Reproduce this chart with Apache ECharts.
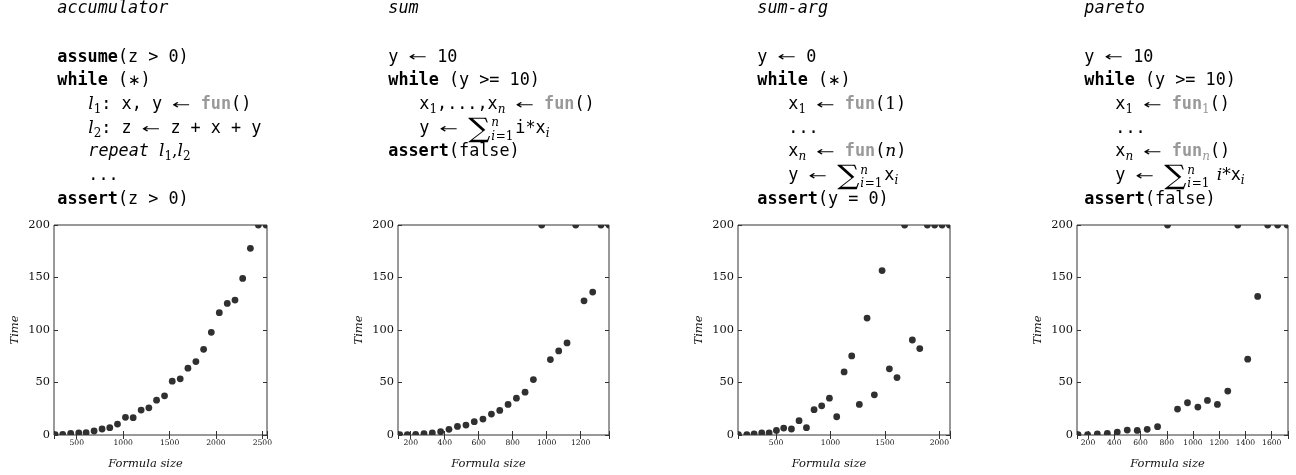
<!DOCTYPE html>
<html>
<head>
<meta charset="utf-8">
<script src="https://cdn.jsdelivr.net/npm/echarts@6/dist/echarts.min.js"></script>
<style>
  html, body { margin: 0; padding: 0; background: #fff; }
  #chart { width: 1296px; height: 475px; }
</style>
</head>
<body>
<div id="chart"></div>
<script>
// Data
const accSize = [268, 349, 435, 522, 601, 687, 773, 856, 939, 1025, 1108, 1194, 1277, 1360, 1446, 1529, 1615, 1698, 1784, 1867, 1950, 2036, 2122, 2205, 2288, 2371, 2457, 2540];
const accTime = [0.3, 0.6, 1.6, 1.9, 2.2, 3.8, 5.7, 7.0, 10.4, 16.8, 16.5, 23.7, 25.9, 33.2, 37.3, 51.3, 53.5, 63.6, 69.9, 81.6, 97.8, 116.5, 125.3, 128.5, 149.1, 177.8, 200, 200];

const sumSize = [135, 180, 229, 278, 327, 376, 425, 475, 525, 574, 625, 675, 724, 773, 822, 873, 922, 971, 1022, 1071, 1120, 1171, 1220, 1271, 1320, 1367];
const sumTime = [0.3, 0.3, 0.6, 1.3, 1.9, 3.2, 5.4, 8.2, 9.5, 12.7, 15.2, 19.9, 23.4, 29.1, 35.1, 40.8, 52.8, 200, 71.8, 80.1, 87.7, 200, 127.8, 136.1, 200, 200];

const sumArgSize = [154, 231, 298, 368, 436, 503, 570, 641, 711, 779, 849, 919, 990, 1057, 1125, 1195, 1265, 1336, 1403, 1474, 1541, 1611, 1681, 1752, 1820, 1890, 1957, 2025, 2093];
const sumArgTime = [0.3, 0.3, 1.0, 1.9, 1.9, 4.4, 6.6, 5.7, 13.6, 7.0, 24.1, 27.8, 35.1, 17.4, 60.1, 75.3, 29.1, 111.4, 38.3, 156.6, 63.0, 54.7, 200, 90.5, 82.3, 200, 200, 200, 200];

const paretoSize = [124, 197, 271, 347, 423, 499, 575, 651, 730, 806, 882, 958, 1037, 1110, 1186, 1265, 1341, 1417, 1493, 1569, 1645, 1718];
const paretoTime = [0.3, 0.3, 1.0, 1.6, 2.8, 4.7, 4.4, 5.4, 7.9, 200, 24.7, 30.7, 26.6, 32.9, 29.1, 41.8, 200, 72.2, 132.0, 200, 200, 200];

const titles = ['accumulator', 'sum', 'sum-arg', 'pareto'];
const xTickSteps = [500, 200, 500, 200];
const yTicks = [0, 50, 100, 150, 200];

// Panel layout
const panels = [
  {left: 54, width: 213, xMin: 255, xMax: 2550, sizes: accSize, times: accTime, codeX: 57.3, indentX: 88.3},
  {left: 398, width: 211, xMin: 125, xMax: 1367, sizes: sumSize, times: sumTime, codeX: 388.3, indentX: 419.3},
  {left: 738, width: 212, xMin: 150, xMax: 2098, sizes: sumArgSize, times: sumArgTime, codeX: 757.3, indentX: 788.3},
  {left: 1077, width: 211, xMin: 116, xMax: 1724, sizes: paretoSize, times: paretoTime, codeX: 1084.3, indentX: 1115.3}
];

// ---- code listing typesetting ----
const MONO = 'DejaVu Sans Mono';
const SERIF = 'DejaVu Serif';
const FS = 16.8;
function st(family, size, weight, style, color, dy, sx) {
  return {family, size, weight, style, color, dy: dy || 0, sx: sx || 1};
}
const ST = {
  m:    st(MONO, FS, 'normal', 'normal', '#000'),
  b:    st(MONO, FS, 'bold', 'normal', '#000'),
  g:    st(MONO, FS, 'bold', 'normal', '#999'),
  it:   st(MONO, FS, 'normal', 'italic', '#000'),
  v:    st(SERIF, 17, 'normal', 'italic', '#000'),
  r:    st(SERIF, 17, 'normal', 'normal', '#000'),
  sb:   st(SERIF, 12, 'normal', 'normal', '#000', 3.5),
  sbi:  st(SERIF, 12, 'normal', 'italic', '#000', 3.5),
  gsb:  st(SERIF, 12, 'normal', 'normal', '#999', 3.5),
  gsbi: st(SERIF, 12, 'normal', 'italic', '#999', 3.5),
  arr:  st('DejaVu Sans', 13, 'normal', 'normal', '#000', -0.5, 1.7),
  ast:  st('DejaVu Sans', 15, 'normal', 'normal', '#000'),
  sig:  st(SERIF, 27, 'normal', 'normal', '#000', 5, 1.15),
  sup:  st(SERIF, 12, 'normal', 'italic', '#000', -7),
  lowi: st(SERIF, 12, 'normal', 'italic', '#000', 6.5),
  low:  st(SERIF, 12, 'normal', 'normal', '#000', 6.5)
};

const ctx = document.createElement('canvas').getContext('2d');
function measure(text, s) {
  ctx.font = `${s.style} ${s.weight} ${s.size}px "${s.family}"`;
  return ctx.measureText(text).width * s.sx;
}
function textEl(text, x, baseline, s) {
  return {
    type: 'text', x: x, y: baseline + s.dy - 0.34 * s.size, scaleX: s.sx, silent: true,
    style: {text: text, fill: s.color, fontSize: s.size, fontFamily: s.family,
      fontWeight: s.weight, fontStyle: s.style, align: 'left', verticalAlign: 'middle'}
  };
}
function layoutLine(x, baseline, segs) {
  const out = [];
  segs.forEach(seg => {
    if (seg[0] === 'sum') {
      out.push(textEl('∑', x, baseline, ST.sig));
      x += measure('∑', ST.sig) + 1;
      out.push(textEl(seg[1], x, baseline, ST.sup));
      const w1 = measure('i', ST.lowi);
      out.push(textEl('i', x, baseline, ST.lowi));
      out.push(textEl('=1', x + w1 + 0.5, baseline, ST.low));
      x += Math.max(measure(seg[1], ST.sup), w1 + 0.5 + measure('=1', ST.low)) + 2;
    } else {
      const s = ST[seg[0]];
      out.push(textEl(seg[1], x, baseline, s));
      x += measure(seg[1], s);
    }
  });
  return out;
}

const ARR = ['arr', '←'];
const AST = ['ast', '∗'];
const codes = [
  [
    [0, [['b', 'assume'], ['m', '(z > 0)']]],
    [0, [['b', 'while'], ['m', ' ('], AST, ['m', ')']]],
    [1, [['v', 'l'], ['sb', '1'], ['m', ': x, y '], ARR, ['m', ' '], ['g', 'fun'], ['m', '()']]],
    [1, [['v', 'l'], ['sb', '2'], ['m', ': z '], ARR, ['m', ' z + x + y']]],
    [1, [['it', 'repeat '], ['v', 'l'], ['sb', '1'], ['r', ','], ['v', 'l'], ['sb', '2']]],
    [1, [['m', '...']]],
    [0, [['b', 'assert'], ['m', '(z > 0)']]]
  ],
  [
    [0, [['m', 'y '], ARR, ['m', ' 10']]],
    [0, [['b', 'while'], ['m', ' (y >= 10)']]],
    [1, [['m', 'x'], ['sb', '1'], ['m', ',...,x'], ['sbi', 'n'], ['m', ' '], ARR, ['m', ' '], ['g', 'fun'], ['m', '()']]],
    [1, [['m', 'y '], ARR, ['m', ' '], ['sum', 'n'], ['m', 'i*x'], ['sbi', 'i']]],
    [0, [['b', 'assert'], ['m', '(false)']]]
  ],
  [
    [0, [['m', 'y '], ARR, ['m', ' 0']]],
    [0, [['b', 'while'], ['m', ' ('], AST, ['m', ')']]],
    [1, [['m', 'x'], ['sb', '1'], ['m', ' '], ARR, ['m', ' '], ['g', 'fun'], ['m', '('], ['r', '1'], ['m', ')']]],
    [1, [['m', '...']]],
    [1, [['m', 'x'], ['sbi', 'n'], ['m', ' '], ARR, ['m', ' '], ['g', 'fun'], ['m', '('], ['v', 'n'], ['m', ')']]],
    [1, [['m', 'y '], ARR, ['m', ' '], ['sum', 'n'], ['m', 'x'], ['sbi', 'i']]],
    [0, [['b', 'assert'], ['m', '(y = 0)']]]
  ],
  [
    [0, [['m', 'y '], ARR, ['m', ' 10']]],
    [0, [['b', 'while'], ['m', ' (y >= 10)']]],
    [1, [['m', 'x'], ['sb', '1'], ['m', ' '], ARR, ['m', ' '], ['g', 'fun'], ['gsb', '1'], ['m', '()']]],
    [1, [['m', '...']]],
    [1, [['m', 'x'], ['sbi', 'n'], ['m', ' '], ARR, ['m', ' '], ['g', 'fun'], ['gsbi', 'n'], ['m', '()']]],
    [1, [['m', 'y '], ARR, ['m', ' '], ['sum', 'n'], ['r', ' '], ['v', 'i'], ['r', '*'], ['m', 'x'], ['sbi', 'i']]],
    [0, [['b', 'assert'], ['m', '(false)']]]
  ]
];

const graphics = [];
panels.forEach((p, i) => {
  graphics.push(textEl(titles[i], p.codeX, 14, ST.it));
  codes[i].forEach((line, k) => {
    const x = line[0] ? p.indentX : p.codeX;
    layoutLine(x, 63 + 23.7 * k, line[1]).forEach(el => graphics.push(el));
  });
});

// ---- chart ----
const chart = echarts.init(document.getElementById('chart'));

const LABEL_FONT = 'DejaVu Serif';
const grid = [], xAxis = [], yAxis = [], series = [];

panels.forEach((p, i) => {
  grid.push({left: p.left, top: 225, width: p.width, height: 210, show: true,
    borderColor: '#333', borderWidth: 1, backgroundColor: 'transparent'});
});
panels.forEach((p, i) => {
  const step = xTickSteps[i];
  xAxis.push({
    gridIndex: i, type: 'value', position: 'bottom', min: p.xMin, max: p.xMax,
    minInterval: step, maxInterval: step,
    name: 'Formula size', nameLocation: 'middle', nameGap: 23,
    nameTextStyle: {fontFamily: LABEL_FONT, fontStyle: 'italic', fontSize: 11.5, color: '#111', padding: [0, 30, 0, 0]},
    axisLine: {show: false},
    axisTick: {inside: true, length: 4, lineStyle: {color: '#333'}},
    axisLabel: {fontFamily: LABEL_FONT, fontSize: 7.6, color: '#111', margin: 4,
      formatter: v => (v % step === 0 ? String(v) : '')},
    splitLine: {show: false}
  });
});
panels.forEach((p, i) => {
  const step = xTickSteps[i];
  xAxis.push({
    gridIndex: i, type: 'value', position: 'top', min: p.xMin, max: p.xMax,
    minInterval: step, maxInterval: step,
    axisLine: {show: false},
    axisTick: {inside: true, length: 4, lineStyle: {color: '#333'}},
    axisLabel: {show: false},
    splitLine: {show: false}
  });
});
panels.forEach((p, i) => {
  yAxis.push({
    gridIndex: i, type: 'value', position: 'left', min: yTicks[0], max: yTicks[yTicks.length - 1], interval: 50,
    name: 'Time', nameLocation: 'middle', nameGap: 33,
    nameTextStyle: {fontFamily: LABEL_FONT, fontStyle: 'italic', fontSize: 11.5, color: '#111'},
    axisLine: {show: false},
    axisTick: {inside: true, length: 4, lineStyle: {color: '#333'}},
    axisLabel: {fontFamily: LABEL_FONT, fontSize: 11.4, color: '#111', margin: 4},
    splitLine: {show: false}
  });
});
panels.forEach((p, i) => {
  yAxis.push({
    gridIndex: i, type: 'value', position: 'right', min: yTicks[0], max: yTicks[yTicks.length - 1], interval: 50,
    axisLine: {show: false},
    axisTick: {inside: true, length: 4, lineStyle: {color: '#333'}},
    axisLabel: {show: false},
    splitLine: {show: false}
  });
});
panels.forEach((p, i) => {
  series.push({
    type: 'custom', xAxisIndex: i, yAxisIndex: i, clip: true,
    encode: {x: 0, y: 1},
    data: p.sizes.map((s, k) => [s, p.times[k]]),
    renderItem: (params, api) => {
      const pt = api.coord([api.value(0), api.value(1)]);
      return {type: 'circle', shape: {cx: pt[0], cy: pt[1], r: 3.4}, style: {fill: '#303030'}};
    }
  });
});

chart.setOption({
  backgroundColor: '#fff',
  animation: false,
  grid: grid,
  xAxis: xAxis,
  yAxis: yAxis,
  series: series,
  graphic: {elements: graphics}
});
</script>
</body>
</html>
